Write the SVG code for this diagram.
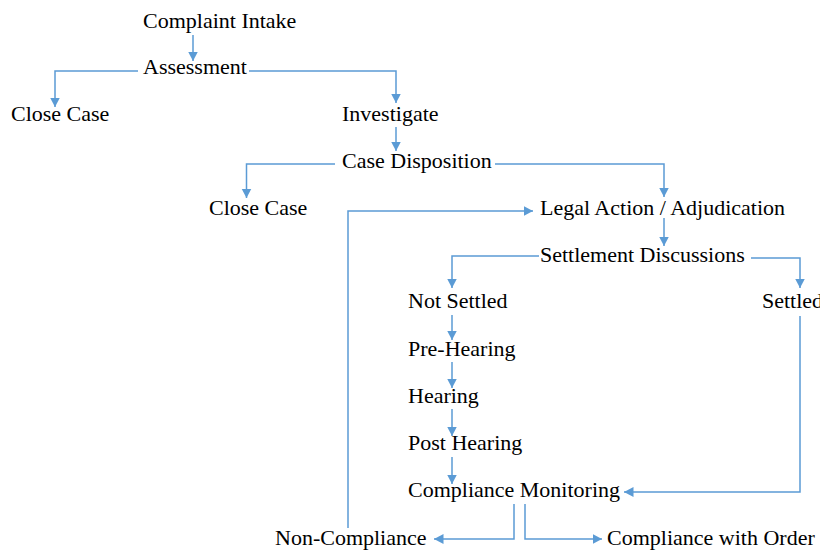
<svg xmlns="http://www.w3.org/2000/svg" width="820" height="550" viewBox="0 0 820 550">
<style>
text{font-family:"Liberation Serif","Times New Roman",serif;font-size:22px;fill:#000}
.c path{fill:none;stroke:#5B9BD5;stroke-width:1.5}
</style>
<defs>
<marker id="a" markerUnits="userSpaceOnUse" markerWidth="11" markerHeight="11" refX="9.5" refY="5" orient="auto">
<path d="M0,0 L9.5,5 L0,10 z" fill="#5B9BD5"/>
</marker>
</defs>
<rect width="820" height="550" fill="#fff"/>
<g class="c" id="connectors">
<path d="M193,35 V61" marker-end="url(#a)"/>
<path d="M138,71 H55 V107" marker-end="url(#a)"/>
<path d="M249,71 H396 V103" marker-end="url(#a)"/>
<path d="M396,127 V151" marker-end="url(#a)"/>
<path d="M335,164 H246.5 V198" marker-end="url(#a)"/>
<path d="M495,164 H664 V197" marker-end="url(#a)"/>
<path d="M664,218 V246" marker-end="url(#a)"/>
<path d="M539,256 H452 V288" marker-end="url(#a)"/>
<path d="M751,258 H800 V288" marker-end="url(#a)"/>
<path d="M452,315 V340" marker-end="url(#a)"/>
<path d="M452,362 V388" marker-end="url(#a)"/>
<path d="M452,409 V436" marker-end="url(#a)"/>
<path d="M452,457 V484" marker-end="url(#a)"/>
<path d="M800,316 V492 H624" marker-end="url(#a)"/>
<path d="M514,504 V539 H434" marker-end="url(#a)"/>
<path d="M525,504 V539 H602" marker-end="url(#a)"/>
<path d="M348,528 V211 H533" marker-end="url(#a)"/>
</g>
<g id="n1"><text x="143" y="28">Complaint Intake</text></g>
<g id="n2"><text x="143" y="74">Assessment</text></g>
<g id="n3"><text x="11" y="121">Close Case</text></g>
<g id="n4"><text x="342" y="121">Investigate</text></g>
<g id="n5"><text x="342" y="168">Case Disposition</text></g>
<g id="n6"><text x="209" y="215">Close Case</text></g>
<g id="n7"><text x="540" y="215">Legal Action / Adjudication</text></g>
<g id="n8"><text x="540" y="262">Settlement Discussions</text></g>
<g id="n9"><text x="408" y="308">Not Settled</text></g>
<g id="n10"><text x="762" y="308">Settled</text></g>
<g id="n11"><text x="408" y="356">Pre-Hearing</text></g>
<g id="n12"><text x="408" y="403">Hearing</text></g>
<g id="n13"><text x="408" y="450">Post Hearing</text></g>
<g id="n14"><text x="408" y="497">Compliance Monitoring</text></g>
<g id="n15"><text x="275" y="545">Non-Compliance</text></g>
<g id="n16"><text x="607" y="545">Compliance with Order</text></g>
</svg>
